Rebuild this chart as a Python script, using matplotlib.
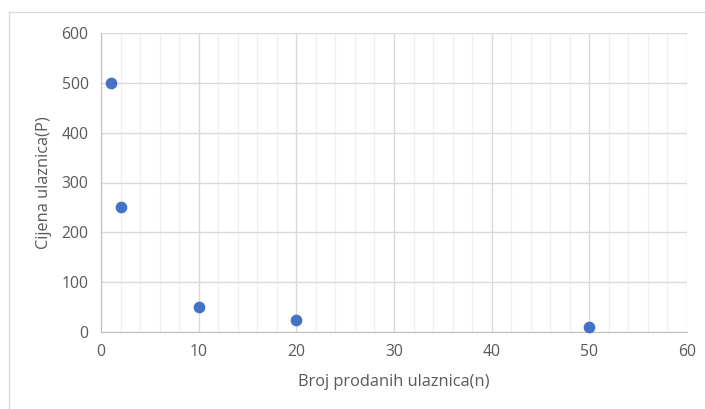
import matplotlib.pyplot as plt
from matplotlib.lines import Line2D
from matplotlib.ticker import MultipleLocator

# broj prodanih ulaznica i cijena
n_sold = [1, 2, 10, 20, 50]
price = [500, 250, 50, 25, 10]

plt.rcParams['font.family'] = ['Open Sans', 'DejaVu Sans']

fig = plt.figure(figsize=(7.05, 4.09), dpi=100)
ax = fig.add_axes([101/705, 1 - 332/409, 586/705, 299/409])

# okvir grafikona
fig.add_artist(Line2D([9/705, 9/705], [0, 1 - 12/409], color='#d9d9d9', lw=1))
fig.add_artist(Line2D([9/705, 1], [1 - 12/409, 1 - 12/409], color='#d9d9d9', lw=1))

ax.scatter(n_sold, price, s=55, color='#4472c4', zorder=3, clip_on=False)

ax.set_xlim(0, 60)
ax.set_ylim(0, 600)
ax.xaxis.set_major_locator(MultipleLocator(10))
ax.xaxis.set_minor_locator(MultipleLocator(2))
ax.yaxis.set_major_locator(MultipleLocator(100))

ax.grid(which='major', color='#d9d9d9', lw=1)
ax.grid(which='minor', axis='x', color='#f0f0f0', lw=1)
ax.set_axisbelow(True)

for s in ['top', 'right']:
    ax.spines[s].set_visible(False)
for s in ['left', 'bottom']:
    ax.spines[s].set_color('#bfbfbf')
ax.tick_params(which='both', length=0, colors='#595959', labelsize=11.3, pad=9)

ax.set_xlabel('Broj prodanih ulaznica(n)', fontsize=11.8, color='#595959', labelpad=10)
ax.set_ylabel('Cijena ulaznica(P)', fontsize=11.8, color='#595959', labelpad=7)

fig.savefig('out.png', dpi=100)
